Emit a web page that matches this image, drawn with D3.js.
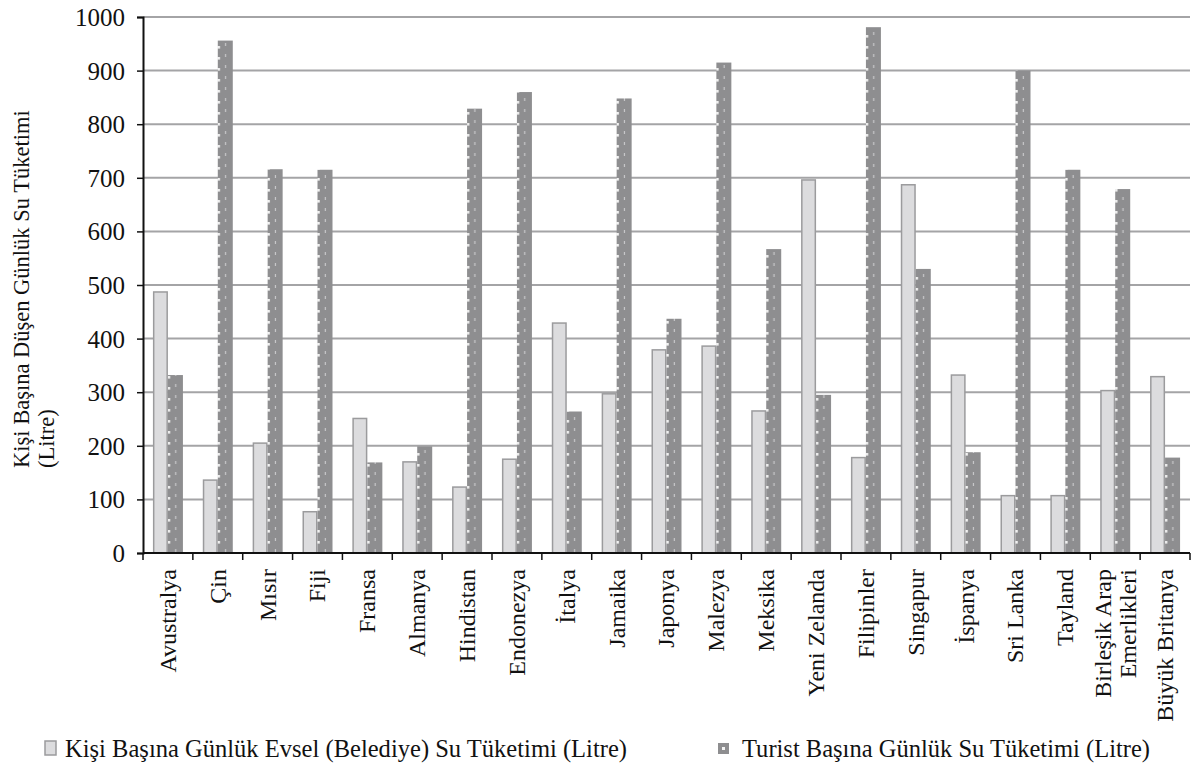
<!DOCTYPE html>
<html>
<head>
<meta charset="utf-8">
<script src="https://cdn.jsdelivr.net/npm/d3@7"></script>
<style>
  html, body { margin: 0; padding: 0; background: #fff; }
  svg text { font-family: "Liberation Serif", "Times New Roman", serif; fill: #111; }
</style>
</head>
<body>
<svg id="chart" width="1194" height="764" font-family="Liberation Serif, serif"></svg>
<script>
// Countries (multi-line names split with "\n")
const categories = [
  "Avustralya", "Çin", "Mısır", "Fiji", "Fransa", "Almanya", "Hindistan",
  "Endonezya", "İtalya", "Jamaika", "Japonya", "Malezya", "Meksika",
  "Yeni Zelanda", "Filipinler", "Singapur", "İspanya", "Sri Lanka",
  "Tayland", "Birleşik Arap\nEmerlikleri", "Büyük Britanya"
];
// Daily domestic (municipal) water use per person, litres
const domestic = [487, 136, 205, 77, 251, 170, 123, 175, 429, 297, 379, 386,
                  265, 696, 178, 687, 332, 107, 107, 303, 329];
// Daily water use per tourist, litres
const tourist = [332, 956, 716, 715, 169, 199, 829, 860, 264, 848, 437, 915,
                 567, 295, 981, 530, 188, 900, 715, 679, 178];
const seriesNames = [
  "Kişi Başına Günlük Evsel (Belediye) Su Tüketimi (Litre)",
  "Turist Başına Günlük Su Tüketimi (Litre)"
];
const yTicks = [0, 100, 200, 300, 400, 500, 600, 700, 800, 900, 1000];
const yTitle = ["Kişi Başına Düşen Günlük Su Tüketimi", "(Litre)"];

const FONT = "Liberation Serif, Times New Roman, serif";
const svg = d3.select("#chart");
const plotLeft = 143, plotRight = 1190, plotTop = 17, plotBottom = 553;

const x = d3.scaleBand().domain(categories).range([plotLeft, plotRight]).padding(0);
const step = x.step();
const barW = 15;
const xs = d3.scaleBand().domain(["domestic", "tourist"])
  .range([step / 2 - barW, step / 2 + barW]).padding(0);
const y = d3.scaleLinear().domain([0, 1000]).range([plotBottom, plotTop]);

const lightFill = "#dcdcde", lightStroke = "#9b9b9d", darkFill = "#8e8e90";

// dotted pattern for tourist bars: one dot column per band, centred on the bar
const defs = svg.append("defs");
const pat = defs.append("pattern")
  .attr("id", "dots")
  .attr("patternUnits", "userSpaceOnUse")
  .attr("x", plotLeft).attr("y", plotBottom - 5)
  .attr("width", step).attr("height", 11);
pat.append("rect").attr("width", step).attr("height", 11).attr("fill", darkFill);
pat.append("rect")
  .attr("x", xs("tourist") + barW / 2 - 1.3).attr("y", 4)
  .attr("width", 2.6).attr("height", 2.6).attr("fill", "#f4f4f4");
pat.append("rect")
  .attr("x", xs("tourist") + barW - 1.2).attr("y", 1)
  .attr("width", 1.2).attr("height", 3).attr("fill", "#c9c9cb");

// horizontal grid lines
svg.append("g")
  .selectAll("line")
  .data(yTicks.filter(t => t > 0))
  .join("line")
  .attr("x1", plotLeft).attr("x2", plotRight)
  .attr("y1", d => y(d)).attr("y2", d => y(d))
  .attr("stroke", "#a4a4a6").attr("stroke-width", 2);

// bars
const groups = svg.append("g")
  .selectAll("g")
  .data(categories.map((c, i) => ({ c, d: domestic[i], t: tourist[i] })))
  .join("g")
  .attr("transform", d => `translate(${x(d.c)},0)`);

groups.append("rect")
  .attr("x", xs("domestic") + 0.75)
  .attr("width", barW - 1.5)
  .attr("y", d => y(d.d))
  .attr("height", d => plotBottom - y(d.d))
  .attr("fill", lightFill)
  .attr("stroke", lightStroke)
  .attr("stroke-width", 1.5);

groups.append("rect")
  .attr("x", xs("tourist"))
  .attr("width", barW)
  .attr("y", d => y(d.t))
  .attr("height", d => plotBottom - y(d.t))
  .attr("fill", "url(#dots)");

// y axis
const yAxis = svg.append("g")
  .attr("transform", `translate(${plotLeft},0)`)
  .call(d3.axisLeft(y).tickValues(yTicks).tickSize(6).tickPadding(12).tickFormat(d3.format("d")));
yAxis.attr("font-family", FONT).attr("font-size", null);
yAxis.select(".domain").attr("stroke", "#111").attr("stroke-width", 2);
yAxis.selectAll(".tick line").attr("stroke", "#111").attr("stroke-width", 1.5);
yAxis.selectAll(".tick text")
  .attr("font-family", FONT)
  .style("font-size", "25px")
  .attr("dy", "0.34em")
  .attr("fill", "#111");

// x axis line and band boundary ticks
svg.append("line")
  .attr("x1", plotLeft).attr("x2", plotRight)
  .attr("y1", plotBottom).attr("y2", plotBottom)
  .attr("stroke", "#111").attr("stroke-width", 2);
const bounds = categories.map(c => x(c)).concat([x(categories[categories.length - 1]) + step]);
svg.append("g").selectAll("line")
  .data(bounds)
  .join("line")
  .attr("x1", d => d).attr("x2", d => d)
  .attr("y1", plotBottom).attr("y2", plotBottom + 7)
  .attr("stroke", "#111").attr("stroke-width", 1.5);

// category labels, rotated
const labels = svg.append("g").selectAll("text")
  .data(categories)
  .join("text")
  .attr("transform", d => `translate(${x(d) + step / 2},${plotBottom + 16}) rotate(-90)`)
  .attr("text-anchor", "end")
  .attr("font-family", FONT)
  .style("font-size", "24px");
labels.each(function (d) {
  const lines = d.split("\n");
  const n = lines.length;
  d3.select(this).selectAll("tspan")
    .data(lines)
    .join("tspan")
    .attr("x", 0)
    .attr("y", (l, i) => (i - (n - 1) / 2) * 25)
    .attr("dy", "0.33em")
    .text(l => l);
});

// y axis title
const yt = svg.append("text")
  .attr("transform", `translate(29,468) rotate(-90)`)
  .attr("text-anchor", "start")
  .attr("font-family", FONT)
  .style("font-size", "22.5px");
yt.selectAll("tspan")
  .data(yTitle)
  .join("tspan")
  .attr("x", 0)
  .attr("y", (d, i) => i * 25)
  .text(d => d);

// legend
const legend = svg.append("g").attr("transform", "translate(0,749)");
legend.append("rect")
  .attr("x", 45).attr("y", -8).attr("width", 11).attr("height", 14)
  .attr("fill", lightFill).attr("stroke", lightStroke).attr("stroke-width", 1.5);
legend.append("text")
  .attr("x", 65).attr("y", 0).attr("dy", "0.33em")
  .attr("font-family", FONT)
  .style("font-size", "25px")
  .attr("textLength", 562).attr("lengthAdjust", "spacingAndGlyphs")
  .text(seriesNames[0]);
legend.append("rect")
  .attr("x", 718).attr("y", -6).attr("width", 11).attr("height", 11)
  .attr("fill", darkFill);
legend.append("rect")
  .attr("x", 722).attr("y", -2).attr("width", 3).attr("height", 3)
  .attr("fill", "#f4f4f4");
legend.append("text")
  .attr("x", 742).attr("y", 0).attr("dy", "0.33em")
  .attr("font-family", FONT)
  .style("font-size", "25px")
  .attr("textLength", 408).attr("lengthAdjust", "spacingAndGlyphs")
  .text(seriesNames[1]);
</script>
</body>
</html>
